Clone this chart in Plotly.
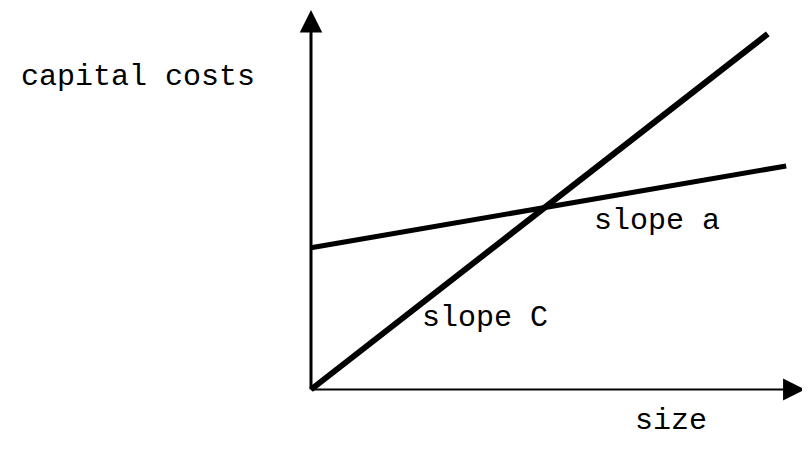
import plotly.graph_objects as go

# data (arbitrary units)
size_c = [0, 9.93]
cost_c = [0, 7.73]
size_a = [0, 10.33]
cost_a = [3.08, 4.86]
x_axis_end = 10.74
y_axis_end = 8.25

PX = 46.0
W, H = 810, 449
BODY = 8  # default page margin
ox, oy = 311 - BODY, 389.5 - BODY   # origin in figure pixels


def fx(px):
    return (px - BODY - ox) / PX


def fy(py):
    return (oy - (py - BODY)) / PX


fig = go.Figure()
fig.add_trace(go.Scatter(x=size_c, y=cost_c, mode="lines",
                         line=dict(color="black", width=6), showlegend=False, hoverinfo="skip"))
fig.add_trace(go.Scatter(x=size_a, y=cost_a, mode="lines",
                         line=dict(color="black", width=5), showlegend=False, hoverinfo="skip"))

# axes with arrows
fig.add_annotation(x=0, y=y_axis_end, ax=0, ay=-0.03, xref="x", yref="y", axref="x", ayref="y",
                   showarrow=True, arrowhead=2, arrowsize=1.5, arrowwidth=3, arrowcolor="black", text="")
fig.add_annotation(x=x_axis_end, y=0, ax=-0.03, ay=0, xref="x", yref="y", axref="x", ayref="y",
                   showarrow=True, arrowhead=2, arrowsize=2.0, arrowwidth=2.2, arrowcolor="black", text="")

font = dict(family="Liberation Mono, Courier New, monospace", size=30, color="black")
fig.add_annotation(x=fx(257), y=fy(77), text="capital costs", showarrow=False,
                   xanchor="right", yanchor="middle", font=font)
fig.add_annotation(x=fx(592), y=fy(221), text="slope a", showarrow=False,
                   xanchor="left", yanchor="middle", font=font)
fig.add_annotation(x=fx(420), y=fy(318), text="slope C", showarrow=False,
                   xanchor="left", yanchor="middle", font=font)
fig.add_annotation(x=fx(633), y=fy(421), text="size", showarrow=False,
                   xanchor="left", yanchor="middle", font=font)

fig.update_xaxes(range=[-ox / PX, (W - ox) / PX], visible=False)
fig.update_yaxes(range=[-(H - oy) / PX, oy / PX], visible=False)
fig.update_layout(width=W, height=H, margin=dict(l=0, r=0, t=0, b=0),
                  plot_bgcolor="white", paper_bgcolor="white")
fig.write_html("out.html")
